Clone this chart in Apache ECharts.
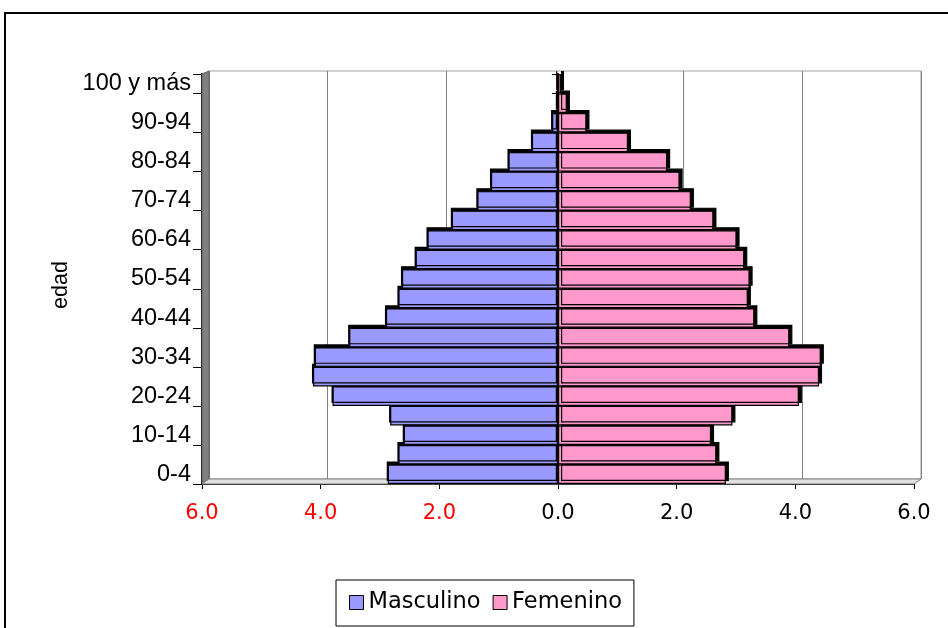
<!DOCTYPE html>
<html>
<head>
<meta charset="utf-8">
<script src="https://cdn.jsdelivr.net/npm/echarts@6/dist/echarts.min.js"></script>
<style>
html,body{margin:0;padding:0;background:#fff;}
#c{width:948px;height:628px;}
</style>
</head>
<body>
<div id="c"></div>
<script>
// Age groups, bottom to top
var categories = ['0-4','5-9','10-14','15-19','20-24','25-29','30-34','35-39','40-44','45-49','50-54','55-59','60-64','65-69','70-74','75-79','80-84','85-89','90-94','95-99','100 y más'];
// Percent of population, men (drawn to the left)
var masculino = [2.87, 2.69, 2.60, 2.83, 3.80, 4.13, 4.10, 3.52, 2.90, 2.69, 2.63, 2.40, 2.20, 1.79, 1.36, 1.13, 0.835, 0.44, 0.10, 0.02, 0.01];
// Percent of population, women (drawn to the right)
var femenino = [2.83, 2.67, 2.58, 2.94, 4.06, 4.40, 4.43, 3.90, 3.31, 3.20, 3.23, 3.14, 3.01, 2.62, 2.24, 2.05, 1.84, 1.18, 0.48, 0.15, 0.05];
var xMin = -6, xMax = 6, xStep = 2;

var chart = echarts.init(document.getElementById('c'), null, {renderer: 'canvas'});
var option = {
  backgroundColor: '#ffffff',
  animation: false,
  grid: [
    {left: 202, right: 34, top: 74, bottom: 144, show: false},
    {left: 209, right: 27, top: 71, bottom: 149, show: true, borderColor: '#a0a0a0', borderWidth: 1, backgroundColor: '#ffffff', z: 0}
  ],
  graphic: [
    {type: 'rect', z: -10, shape: {x: 5, y: 13, width: 1000, height: 700}, style: {fill: 'none', stroke: '#000', lineWidth: 2}},
    {type: 'polygon', z: 1, shape: {points: [[202,74],[209,71],[209,479],[202,484]]}, style: {fill: '#808080', stroke: '#606060', lineWidth: 1}},
    {type: 'polygon', z: 1, shape: {points: [[202,484],[914,484],[921,479],[209,479]]}, style: {fill: '#e0e0e0', stroke: '#808080', lineWidth: 1}}
  ],
  legend: {
    left: 336, top: 580,
    padding: [11, 12, 12, 13],
    itemGap: 12,
    itemWidth: 14, itemHeight: 14,
    borderColor: '#000', borderWidth: 1,
    icon: 'rect',
    itemStyle: {borderColor: '#000', borderWidth: 1, shadowColor: 'rgba(0,0,0,0)', shadowOffsetX: 0, shadowOffsetY: 0},
    textStyle: {fontFamily: 'DejaVu Sans', fontSize: 22.5, color: '#000'},
    data: ['Masculino', 'Femenino']
  },
  xAxis: [
    {
      gridIndex: 0, type: 'value', min: xMin, max: xMax, interval: xStep,
      axisLine: {show: true, onZero: false, lineStyle: {color: '#000', width: 1}},
      axisTick: {show: true, length: 5, lineStyle: {color: '#000'}},
      splitLine: {show: false},
      axisLabel: {
        margin: 19,
        fontFamily: 'DejaVu Sans', fontSize: 21,
        formatter: function (v) { return Math.abs(v).toFixed(1); },
        color: function (v) { return Number(v) < 0 ? '#ff0000' : '#000000'; }
      }
    },
    {
      gridIndex: 1, type: 'value', min: xMin, max: xMax, interval: xStep,
      axisLine: {show: false}, axisTick: {show: false}, axisLabel: {show: false},
      splitLine: {show: true, lineStyle: {color: ['#808080','#808080','#808080','rgba(0,0,0,0)','#808080','#808080','#808080'], width: 1}}
    }
  ],
  yAxis: [
    {
      gridIndex: 0, type: 'category', data: categories,
      axisLine: {show: true, onZero: true, lineStyle: {color: '#000', width: 2}},
      axisTick: {show: true, length: 6, lineStyle: {color: '#000'}},
      axisLabel: {show: false}
    },
    {
      gridIndex: 0, type: 'category', data: categories, position: 'left',
      axisLine: {show: true, onZero: false, lineStyle: {color: '#000', width: 2}},
      axisTick: {show: true, length: 9, lineStyle: {color: '#000'}},
      axisLabel: {show: true, interval: 1, margin: 11, fontFamily: 'Liberation Sans', fontSize: 23.5, color: '#000', padding: [3,0,0,0]},
      name: 'edad', nameLocation: 'middle', nameRotate: 90, nameGap: 130,
      nameTextStyle: {fontFamily: 'Liberation Sans', fontSize: 21.5, color: '#000', padding: [0,12,0,0]}
    },
    {gridIndex: 1, type: 'value', show: false}
  ],
  series: [
    {
      name: 'Masculino', type: 'bar', stack: 'pir', xAxisIndex: 0, yAxisIndex: 0,
      barCategoryGap: '0%',
      data: masculino.map(function (v) { return -v; }),
      itemStyle: {color: '#9999ff', borderColor: '#000', borderWidth: 1.2, shadowColor: '#000', shadowBlur: 0, shadowOffsetX: -1, shadowOffsetY: -3}
    },
    {
      name: 'Femenino', type: 'bar', stack: 'pir', xAxisIndex: 0, yAxisIndex: 0,
      barCategoryGap: '0%',
      data: femenino,
      itemStyle: {color: '#ff99cc', borderColor: '#000', borderWidth: 1.2, shadowColor: '#000', shadowBlur: 0, shadowOffsetX: 3, shadowOffsetY: -3}
    }
  ]
};
chart.setOption(option);
</script>
</body>
</html>
